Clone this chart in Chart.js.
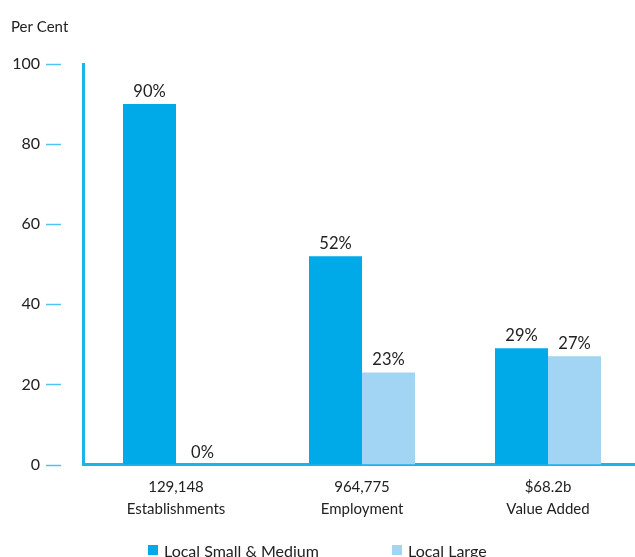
<!DOCTYPE html>
<html>
<head>
<meta charset="utf-8">
<script src="https://cdn.jsdelivr.net/npm/chart.js@4.4.1/dist/chart.umd.min.js"></script>
<style>
  html, body { margin: 0; padding: 0; background: #fff; overflow: hidden; width: 635px; height: 557px; }
  #wrap { position: absolute; left: 0; top: 0; width: 641px; height: 557px; }
</style>
</head>
<body>
<div id="wrap"><canvas id="c"></canvas></div>
<script>
// Categories (two-line labels: count / measure)
const categories = [
  ['129,148', 'Establishments'],
  ['964,775', 'Employment'],
  ['$68.2b', 'Value Added']
];
const seriesNames = ['Local Small & Medium', 'Local Large'];
const smallMedium = [90, 52, 29];
const large = [0, 23, 27];
const yTicks = [0, 20, 40, 60, 80, 100];

const DARK = '#00a9e8';
const LIGHT = '#a2d4f4';
const AXIS = '#1cb3ec';
const TEXT = '#222222';
const FONT = 'Lato, "Open Sans", sans-serif';

// Short dashes beside the y tick labels
const tickDashes = {
  id: 'tickDashes',
  afterDraw(chart) {
    const y = chart.scales.y;
    const ctx = chart.ctx;
    const left = chart.chartArea.left;
    ctx.save();
    ctx.strokeStyle = '#4cc3f0';
    ctx.lineWidth = 1.5;
    yTicks.forEach(v => {
      const py = Math.round(y.getPixelForValue(v)) + 0.5;
      ctx.beginPath();
      ctx.moveTo(left - 37, py);
      ctx.lineTo(left - 22, py);
      ctx.stroke();
    });
    ctx.restore();
  }
};

// Percentage labels above each bar
const valueLabels = {
  id: 'valueLabels',
  afterDatasetsDraw(chart) {
    const ctx = chart.ctx;
    ctx.save();
    ctx.font = '16.5px ' + FONT;
    ctx.fillStyle = TEXT;
    ctx.textAlign = 'center';
    ctx.textBaseline = 'alphabetic';
    chart.data.datasets.forEach((ds, di) => {
      chart.getDatasetMeta(di).data.forEach((bar, i) => {
        ctx.fillText(ds.data[i] + '%', bar.x, bar.y - 7);
      });
    });
    ctx.restore();
  }
};

// Legend row under the category labels
const bottomLegend = {
  id: 'bottomLegend',
  afterDraw(chart) {
    const ctx = chart.ctx;
    const starts = [148, 392];
    const yMid = 550;
    ctx.save();
    ctx.font = '16px ' + FONT;
    ctx.textBaseline = 'middle';
    ctx.textAlign = 'left';
    chart.data.datasets.forEach((ds, i) => {
      ctx.fillStyle = ds.backgroundColor;
      ctx.fillRect(starts[i], yMid - 5, 10, 10);
      ctx.fillStyle = TEXT;
      ctx.fillText(ds.label, starts[i] + 16, yMid + 2);
    });
    ctx.restore();
  }
};

new Chart(document.getElementById('c'), {
  type: 'bar',
  data: {
    labels: categories,
    datasets: [
      { label: seriesNames[0], data: smallMedium, backgroundColor: DARK },
      { label: seriesNames[1], data: large, backgroundColor: LIGHT }
    ]
  },
  options: {
    responsive: true,
    maintainAspectRatio: false,
    animation: false,
    events: [],
    layout: { padding: { left: 11, right: 0, top: 0, bottom: 25 } },
    datasets: { bar: { categoryPercentage: 0.57, barPercentage: 1.0 } },
    plugins: {
      legend: { display: false },
      tooltip: { enabled: false },
      title: {
        display: true,
        text: 'Per Cent',
        align: 'start',
        color: TEXT,
        font: { family: FONT, size: 15, weight: 'normal' },
        padding: { top: 18, bottom: 28 }
      }
    },
    scales: {
      x: {
        grid: { display: false, drawTicks: false },
        border: { display: true, color: AXIS, width: 3 },
        ticks: {
          color: TEXT,
          padding: 12,
          maxRotation: 0,
          font: { family: FONT, size: 15, lineHeight: 1.45 }
        }
      },
      y: {
        min: 0,
        max: 100,
        afterBuildTicks(scale) { scale.ticks = yTicks.map(v => ({ value: v })); },
        afterFit(scale) { scale.width = 72; },
        grid: { display: false, drawTicks: false },
        border: { display: true, color: AXIS, width: 3 },
        ticks: {
          color: TEXT,
          padding: 43,
          font: { family: FONT, size: 16 }
        }
      }
    }
  },
  plugins: [tickDashes, valueLabels, bottomLegend]
});
</script>
</body>
</html>
